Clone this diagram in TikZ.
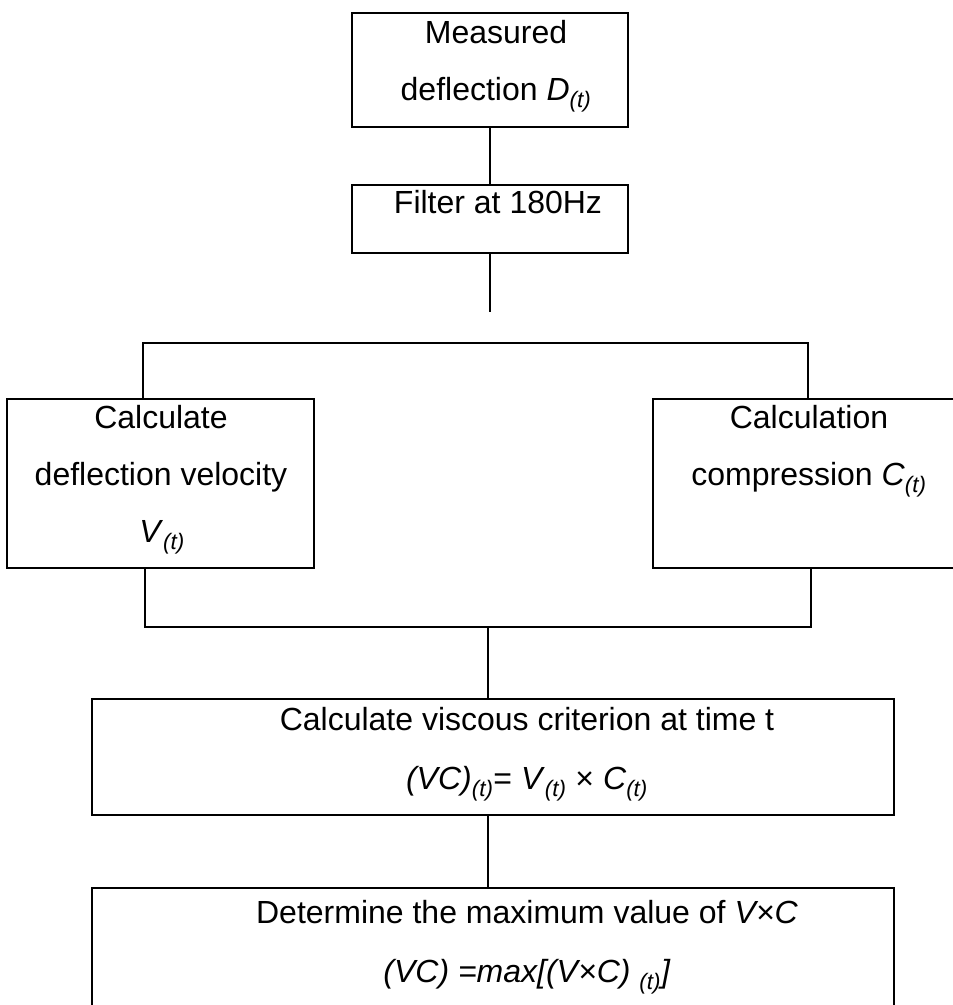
\documentclass[tikz,border=0pt]{standalone}
\usepackage{fontspec}
\setmainfont{Liberation Sans}
\begin{document}
\begin{tikzpicture}[x=1pt,y=-1pt,line width=1.6pt,
    box/.style={draw,inner sep=0pt},
    lbl/.style={anchor=base,inner sep=0pt,font=\fontsize{32}{38}\selectfont}]
    \useasboundingbox (0,0) rectangle (953,1005);
    \clip (0,0) rectangle (953,1005);
    % boxes
    \node[box,minimum width=276pt,minimum height=114pt] (measured) at (490,70) {};
    \node[box,minimum width=276pt,minimum height=68pt] (filter) at (490,219) {};
    \node[box,minimum width=307pt,minimum height=169pt] (velocity) at (160.5,483.5) {};
    \node[box,minimum width=307pt,minimum height=169pt] (compression) at (806.5,483.5) {};
    \node[box,minimum width=802pt,minimum height=116pt] (viscous) at (493,757) {};
    \node[box,minimum width=802pt,minimum height=130pt] (maxvc) at (493,953) {};
    % texts
    \node[lbl] (measured1) at (496,43) {Measured};
    \node[lbl] (measured2) at (496,100) {deflection \textit{D}\textsubscript{\textit{(t)}}};
    \node[lbl] (filter1) at (498,213) {Filter at 180Hz};
    \node[lbl] (velocity1) at (161,428) {Calculate};
    \node[lbl] (velocity2) at (161,485) {deflection velocity};
    \node[lbl] (velocity3) at (162,542) {\textit{V}\textsubscript{\textit{(t)}}};
    \node[lbl] (compression1) at (809,428) {Calculation};
    \node[lbl] (compression2) at (809,485) {compression \textit{C}\textsubscript{\textit{(t)}}};
    \node[lbl] (viscous1) at (527,730) {Calculate viscous criterion at time t};
    \node[lbl] (viscous2) at (527,789) {\textit{(VC)}\textsubscript{\textit{(t)}}= \textit{V}\textsubscript{\textit{(t)}} × \textit{C}\textsubscript{\textit{(t)}}};
    \node[lbl] (maxvc1) at (527,923) {Determine the maximum value of \textit{V×C}};
    \node[lbl] (maxvc2) at (527,982) {\textit{(VC) =max[(V×C) \textsubscript{(t)}]}};
    % connectors
    \coordinate (gap) at (490,312);
    \coordinate (splitl) at (143,343);
    \coordinate (splitr) at (808,343);
    \coordinate (joinl) at (145,627);
    \coordinate (joinr) at (811,627);
    \coordinate (joinc) at (488,627);
    \draw (measured.south) -- (filter.north);
    \draw (filter.south) -- (gap);
    \draw (splitl |- velocity.north) -- (splitl) -- (splitr) -- (splitr |- compression.north);
    \draw (joinl |- velocity.south) -- (joinl) -- (joinr) -- (joinr |- compression.south);
    \draw (joinc) -- (joinc |- viscous.north);
    \draw (joinc |- viscous.south) -- (joinc |- maxvc.north);
\end{tikzpicture}
\end{document}
